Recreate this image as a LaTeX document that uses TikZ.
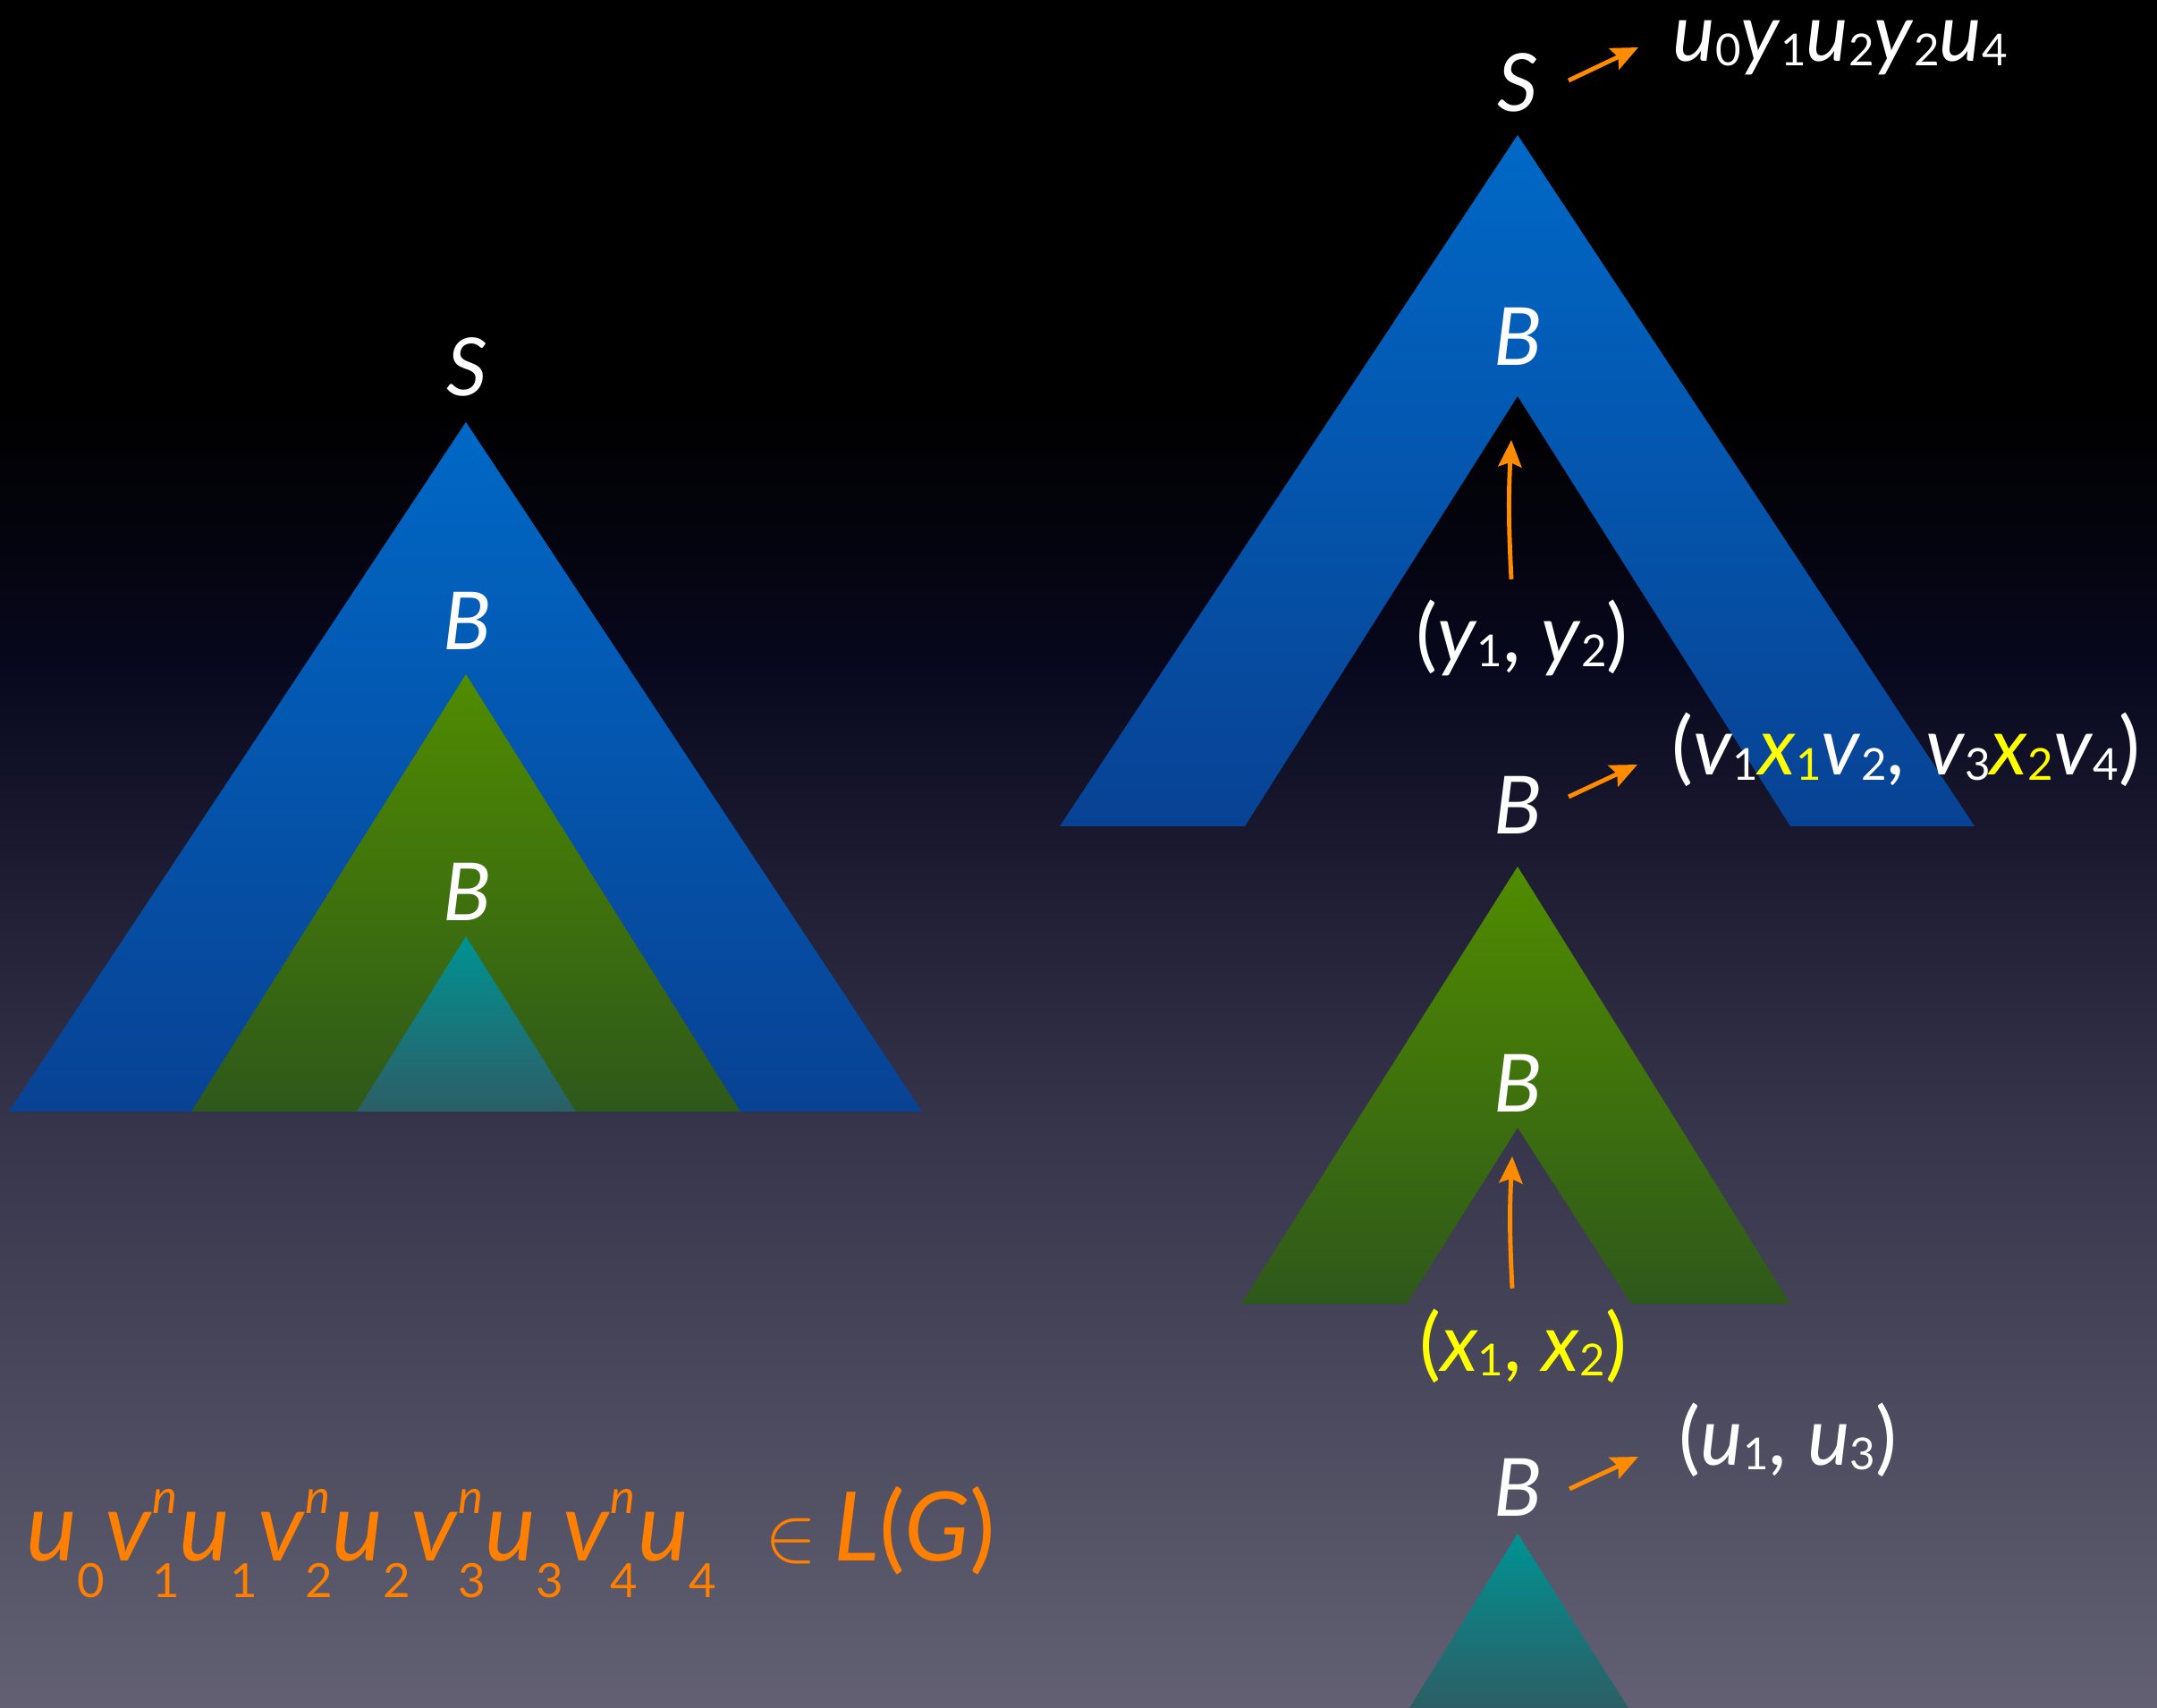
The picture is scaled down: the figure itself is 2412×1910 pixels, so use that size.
\documentclass[tikz,border=0pt]{standalone}
\usepackage{fontspec}
\setmainfont{Lato}
\usepackage{tikz}
\usetikzlibrary{arrows.meta, positioning, calc}
\definecolor{bgnavy}{RGB}{8,8,30}
\definecolor{bgmid}{RGB}{54,52,74}
\definecolor{bgbot}{RGB}{98,96,114}
\definecolor{blueTop}{RGB}{0,104,198}
\definecolor{blueBot}{RGB}{8,66,148}
\definecolor{greenTop}{RGB}{80,140,0}
\definecolor{greenBot}{RGB}{46,88,26}
\definecolor{tealTop}{RGB}{0,146,146}
\definecolor{tealBot}{RGB}{44,94,102}
\definecolor{arrorange}{RGB}{255,140,0}
\definecolor{langorange}{RGB}{255,128,0}
\definecolor{hiyellow}{RGB}{255,255,0}
\newcommand\sbs[1]{\raisebox{-0.05cm}{\fontsize{14}{14}\selectfont #1}}
\newcommand\vr[2]{\textit{#1}\sbs{#2}}
\newcommand\supsub[2]{{\fontsize{15}{15}\selectfont\ooalign{\raisebox{0.52cm}{\itshape #2}\cr\raisebox{-0.41cm}{#1}\cr}}}
\tikzset{
    lbl/.style={text=white, inner sep=0pt, font=\fontsize{25.5}{30}\selectfont},
    arrow/.style={-{Stealth[length=0.3cm, width=0.26cm, inset=0.05cm]}, line width=1.4pt, draw=arrorange},
    shade_blue/.style={top color=blueTop, bottom color=blueBot},
    shade_green/.style={top color=greenTop, bottom color=greenBot},
    shade_teal/.style={top color=tealTop, bottom color=tealBot}
}
\begin{document}
\begin{tikzpicture}[x=0.01cm, y=0.01cm]
			\useasboundingbox (0,0) rectangle (2412,-1910);
			\fill[black] (0,0) rectangle (2412,-452);
			\path[top color=black, bottom color=bgnavy] (0,-450) rectangle (2412,-752);
			\path[top color=bgnavy, bottom color=bgmid] (0,-750) rectangle (2412,-1252);
			\path[top color=bgmid, bottom color=bgbot] (0,-1250) rectangle (2412,-1910);

			% left: whole tree
			\path[shade_blue] (521,-472) -- (1031,-1243) -- (10,-1243) -- cycle;
			\path[shade_green] (521,-754) -- (828,-1243) -- (214,-1243) -- cycle;
			\path[shade_teal] (521,-1047) -- (644,-1243) -- (399,-1243) -- cycle;
			\node (sL) [lbl, anchor=base] at (522,-443) {\textit{S}};
			\node (bL1) [lbl, anchor=base] at (522,-727) {\textit{B}};
			\node (bL2) [lbl, anchor=base] at (522,-1029) {\textit{B}};

			% right: cut into pieces
			\path[shade_blue] (1697,-151) -- (2208,-924) -- (2002,-924) -- (1697,-443) -- (1392,-924) -- (1185,-924) -- cycle;
			\path[shade_green] (1697,-969) -- (2002,-1458) -- (1824,-1458) -- (1697,-1261) -- (1573,-1458) -- (1388,-1458) -- cycle;
			\path[shade_teal] (1697,-1715) -- (1821,-1910) -- (1576,-1910) -- cycle;

			\node (sR) [lbl, anchor=base] at (1697,-125) {\textit{S}};
			\node (outS) [lbl, anchor=base west] at (1870,-69) {\vr{u}{0}\vr{y}{1}\vr{u}{2}\vr{y}{2}\vr{u}{4}};
			\node (bR1) [lbl, anchor=base] at (1697,-409) {\textit{B}};
			\node (pairY) [lbl, anchor=base] at (1702,-741) {(\vr{y}{1}, \vr{y}{2})};
			\node (bR2) [lbl, anchor=base] at (1697,-933) {\textit{B}};
			\node (pairV) [lbl, anchor=base west] at (1869,-867) {(\vr{v}{1}\textcolor{hiyellow}{\vr{x}{1}}\vr{v}{2}, \vr{v}{3}\textcolor{hiyellow}{\vr{x}{2}}\vr{v}{4})};
			\node (bR3) [lbl, anchor=base] at (1697,-1243) {\textit{B}};
			\node (pairX) [lbl, text=hiyellow, anchor=base] at (1703,-1533) {(\vr{x}{1}, \vr{x}{2})};
			\node (bR4) [lbl, anchor=base] at (1697,-1695) {\textit{B}};
			\node (pairU) [lbl, anchor=base west] at (1877,-1638) {(\vr{u}{1}, \vr{u}{3})};

			\node (lang) [lbl, text=langorange, anchor=base west, font=\fontsize{30.5}{36}\selectfont] at (29,-1745)
				{\textit{u}\supsub{0}{}\textit{v}\supsub{1}{n}\textit{u}\supsub{1}{}\textit{v}\supsub{2}{n}\textit{u}\supsub{2}{}\textit{v}\supsub{3}{n}\textit{u}\supsub{3}{}\textit{v}\supsub{4}{n}\textit{u}\supsub{4}{}\ \ $\in$\,\textit{L}(\textit{G})};

			\coordinate (sR_from) at (1754,-90);
			\coordinate (sR_to) at (1832,-53);
			\coordinate (bR2_from) at (1754,-891);
			\coordinate (bR2_to) at (1831,-855);
			\coordinate (bR4_from) at (1755,-1665);
			\coordinate (bR4_to) at (1832,-1629);
			\coordinate (hole1) at (1690,-492);
			\coordinate (hole2) at (1691,-1293);

			\draw [arrow] (sR_from) -- (sR_to);
			\draw [arrow] (bR2_from) -- (bR2_to);
			\draw [arrow] (bR4_from) -- (bR4_to);
			\draw [arrow] (pairY.north) ++(-12,23) to[bend left=3] (hole1);
			\draw [arrow] (pairX.north) ++(-12,22) to[bend left=3] (hole2);
		\end{tikzpicture}
\end{document}
